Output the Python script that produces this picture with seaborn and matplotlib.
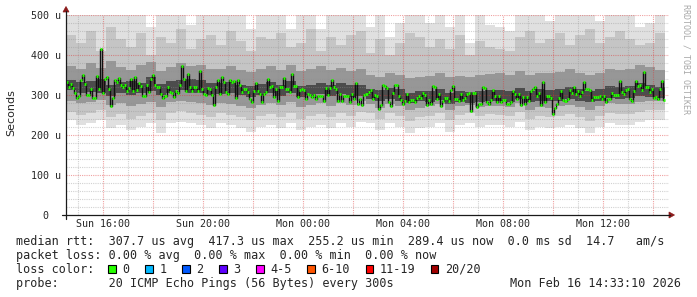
import numpy as np
import matplotlib
matplotlib.use("Agg")
import matplotlib.pyplot as plt
import seaborn as sns
from matplotlib.patches import Rectangle, Polygon
from matplotlib.lines import Line2D
from matplotlib.transforms import blended_transform_factory, offset_copy

# ---------------- data ----------------
median_us = [
    332, 321, 327, 317, 306, 292, 297, 337, 349, 327, 301, 301, 314, 292, 292, 347, 314, 416, 306, 341,
    346, 314, 272, 292, 337, 332, 342, 326, 321, 326, 311, 317, 341, 311, 346, 312, 331, 322, 297, 297,
    326, 307, 341, 351, 326, 321, 321, 302, 292, 297, 321, 307, 306, 294, 311, 306, 324, 372, 341, 311,
    352, 321, 311, 321, 321, 311, 361, 316, 302, 301, 317, 314, 301, 274, 321, 337,
    302, 346, 332, 307, 302, 337, 332, 336, 292, 337, 326, 307, 316, 316, 307, 291, 282, 311, 331, 311,
    302, 282, 302, 307, 341, 321, 322, 296, 316, 284, 321, 321, 342, 316, 316, 307, 352, 322, 322, 296,
    312, 314, 312, 291, 302, 301, 296, 301, 291, 297, 297, 297, 286, 317, 301, 317, 337, 321, 316, 286,
    302, 286, 297, 297, 297, 282, 302, 291, 331, 277, 291, 276, 299, 302, 307,
    312, 291, 301, 297, 266, 276, 326, 322, 317, 282, 272, 306, 326, 326, 297, 287, 277, 286, 302, 282,
    287, 287, 282, 292, 297, 292, 306, 301, 276, 287, 277, 322, 321, 291, 302, 272, 286, 292, 292, 286,
    312, 322, 291, 291, 286, 302, 287, 292, 302, 306, 261, 306, 306, 271, 277, 277, 321, 317, 282, 277,
    287, 312, 297, 282, 297, 282, 287, 287, 277, 277, 282, 311, 302, 291, 302,
    276, 296, 277, 296, 286, 311, 316, 321, 297, 306, 276, 332, 282, 297, 297, 292, 252, 267, 277, 292,
    311, 287, 286, 291, 312, 306, 321, 302, 311, 297, 307, 332, 316, 316, 312, 287, 296, 296, 296, 297,
    291, 297, 282, 291, 291, 306, 301, 301, 301, 336, 307, 302, 312, 316, 291, 286, 311, 336, 322, 326,
    312, 357, 321, 321, 307, 316, 292, 296, 291, 316, 336, 287,
]

# smoke envelopes, one value per half-hour block (microseconds)
smoke_max = [505, 520, 520, 520, 520, 520, 520, 520, 470, 520, 520, 520, 475, 520, 520, 520, 520, 520, 465, 520,
             520, 520, 465, 520, 520, 465, 520, 520, 520, 520, 470, 520, 445, 480, 520, 520, 480, 520, 470, 520,
             430, 520, 475, 470, 460, 520, 520, 520, 485, 520, 500, 520, 520, 485, 520, 520, 520, 470, 480, 520]
smoke_p90 = [450, 430, 460, 410, 470, 440, 420, 455, 400, 445, 430, 465, 415, 440, 450, 425, 460, 435, 410, 445,
             440, 455, 420, 430, 465, 410, 445, 425, 450, 460, 405, 440, 400, 430, 455, 445, 420, 440, 415, 450,
             400, 435, 420, 415, 410, 445, 460, 430, 440, 455, 425, 450, 465, 430, 445, 460, 440, 425, 430, 455]
smoke_p75 = [372, 365, 380, 368, 385, 370, 362, 375, 382, 360, 370, 380, 372, 376, 365, 366, 372, 362, 358, 366,
             372, 362, 376, 360, 366, 372, 362, 368, 360, 364, 350, 346, 354, 350, 342, 346, 348, 356, 344, 348,
             346, 350, 352, 354, 350, 360, 350, 356, 354, 358, 364, 356, 350, 356, 366, 362, 366, 376, 370, 362]
smoke_p60 = [338, 332, 336, 340, 324, 332, 336, 330, 345, 328, 334, 338, 340, 338, 330, 330, 332, 326, 322, 328,
             332, 326, 334, 322, 326, 330, 326, 330, 324, 326, 316, 312, 318, 314, 306, 310, 310, 316, 306, 310,
             308, 310, 312, 312, 310, 318, 310, 314, 312, 316, 320, 316, 310, 316, 322, 320, 322, 330, 326, 320]
smoke_p40 = [312, 306, 308, 306, 298, 304, 300, 305, 310, 300, 306, 312, 304, 306, 300, 302, 304, 300, 296, 300,
             304, 298, 306, 296, 300, 302, 298, 302, 296, 298, 290, 286, 290, 286, 280, 284, 282, 288, 278, 282,
             280, 282, 284, 284, 282, 290, 282, 286, 284, 286, 290, 286, 282, 286, 292, 290, 292, 298, 296, 292]
smoke_p25 = [285, 280, 282, 288, 276, 280, 272, 278, 283, 270, 282, 286, 283, 279, 274, 281, 278, 273, 268, 276,
             279, 274, 282, 270, 276, 279, 273, 281, 276, 284, 278, 267, 277, 272, 262, 268, 272, 278, 262, 272,
             276, 270, 273, 272, 270, 279, 262, 270, 268, 272, 276, 270, 262, 273, 279, 277, 277, 283, 286, 286]
smoke_p10 = [258, 250, 255, 262, 245, 252, 240, 248, 255, 238, 255, 260, 256, 250, 245, 255, 250, 244, 238, 248,
             252, 245, 255, 240, 248, 252, 245, 255, 248, 258, 255, 240, 254, 248, 235, 245, 248, 255, 238, 250,
             255, 248, 252, 250, 248, 258, 240, 248, 245, 248, 252, 245, 235, 248, 255, 252, 252, 258, 262, 262]
smoke_min = [237, 225, 229, 237, 217, 225, 212, 221, 229, 204, 229, 233, 229, 225, 217, 229, 225, 217, 208, 221,
             225, 217, 229, 212, 221, 225, 217, 229, 221, 233, 229, 212, 229, 221, 204, 217, 221, 229, 208, 225,
             229, 221, 225, 225, 221, 233, 212, 221, 217, 221, 225, 217, 204, 221, 229, 225, 225, 233, 237, 237]

x_tick_hours = [16, 20, 24, 28, 32, 36]
x_tick_labels = ["Sun 16:00", "Sun 20:00", "Mon 00:00", "Mon 04:00", "Mon 08:00", "Mon 12:00"]
y_tick_values = [0, 100, 200, 300, 400, 500]
y_tick_labels = ["  0", "100 u", "200 u", "300 u", "400 u", "500 u"]

loss_labels = ["0", "1", "2", "3", "4-5", "6-10", "11-19", "20/20"]
loss_colors = ["#26ff00", "#00b8ff", "#0059ff", "#5e00ff", "#ff00ff", "#ff5500", "#ff0000", "#a10000"]

stats_line = "median rtt:  307.7 us avg  417.3 us max  255.2 us min  289.4 us now  0.0 ms sd  14.7   am/s"
loss_line = "packet loss: 0.00 % avg  0.00 % max  0.00 % min  0.00 % now"
color_title = "loss color:"
probe_line = "probe:       20 ICMP Echo Pings (56 Bytes) every 300s"
stamp_text = "Mon Feb 16 14:33:10 2026"
ylabel_text = "Seconds"
side_text = "RRDTOOL / TOBI OETIKER"

# ---------------- layout ----------------
W, H = 697, 297
T0, T1 = 14.52, 38.64          # visible time window (hours since Sun 00:00)
T_DATA_END = 38.48

sns.set_theme(style="white")
plt.rcParams["font.family"] = ["DejaVu Sans Mono"]

fig = plt.figure(figsize=(W / 100, H / 100), dpi=100)
fig.patch.set_facecolor("white")
ax = fig.add_axes([66 / W, (H - 215) / H, 603 / W, 200 / H])
ax.set_facecolor("white")
ax.set_xlim(T0, T1)
ax.set_ylim(0, 500)
for s in ax.spines.values():
    s.set_visible(False)

# smoke
nb = len(smoke_max)
xb = np.linspace(T0, T_DATA_END, nb + 1)
levels = [
    (smoke_min, smoke_max, "#e0e0e0"),
    (smoke_p10, smoke_p90, "#c5c5c5"),
    (smoke_p25, smoke_p75, "#979797"),
    (smoke_p40, smoke_p60, "#4c4c4c"),
]
for i, (lo, hi, c) in enumerate(levels):
    lo_a = np.append(lo, lo[-1])
    hi_a = np.append(hi, hi[-1])
    ax.fill_between(xb, lo_a, hi_a, step="post", color=c, lw=0, zorder=1 + i * 0.1)

# grid (semi-transparent, drawn over the smoke like rrdtool)
minor_c = (0x8f / 255, 0x8f / 255, 0x8f / 255, 0.4)
major_c = (0xde / 255, 0x30 / 255, 0x30 / 255, 0.45)
for h in range(15, 39):
    ax.axvline(h, color=major_c if h % 2 == 0 else minor_c, lw=0.8, ls=(0, (1, 1)), zorder=3)
for v in range(20, 501, 20):
    ax.axhline(v, color=major_c if v % 100 == 0 else minor_c, lw=0.8, ls=(0, (1, 1)), zorder=3)

# median line
n = len(median_us)
step = (T_DATA_END - T0) / n
x_mid = T0 + (np.arange(n) + 0.5) * step
sns.lineplot(x=x_mid, y=median_us, ax=ax, color="#111111", lw=1.0, drawstyle="steps-mid",
             estimator=None, sort=False, zorder=4)
ax.hlines(median_us, x_mid - step / 2, x_mid + step / 2, color=loss_colors[0], lw=2.0, zorder=5)

# ticks
ax.set_xticks(x_tick_hours)
ax.set_xticklabels(x_tick_labels, fontsize=7.2)
ax.tick_params(axis="x", length=0, pad=3)
ax.set_yticks([])
ax.set_xlabel("")
ax.set_ylabel("")
trans = offset_copy(blended_transform_factory(fig.transFigure, ax.transData), fig=fig, y=-3.6, units="dots")
for v, lab in zip(y_tick_values, y_tick_labels):
    ax.text(31 / W, v, lab, transform=trans, ha="left", va="baseline", fontsize=7.2, clip_on=False)

# axis lines and arrows
def fx(px):
    return px / W

def fy(py):
    return 1 - py / H

fig.add_artist(Line2D([fx(66), fx(66)], [fy(219), fy(11)], color="#1a1a1a", lw=0.9))
fig.add_artist(Line2D([fx(62), fx(670)], [fy(215), fy(215)], color="#1a1a1a", lw=0.9))
fig.add_artist(Polygon([(fx(63), fy(12)), (fx(69), fy(12)), (fx(66), fy(6.5))], closed=True,
                       facecolor="#8b1a1a", edgecolor="#8b1a1a", lw=0.5, transform=fig.transFigure))
fig.add_artist(Polygon([(fx(669), fy(212)), (fx(669), fy(218)), (fx(674.5), fy(215))], closed=True,
                       facecolor="#8b1a1a", edgecolor="#8b1a1a", lw=0.5, transform=fig.transFigure))

# texts
fs = 8.5
fig.text(fx(11), fy(113), ylabel_text, rotation=90, ha="center", va="center", fontsize=8,
         family=["DejaVu Sans"])
fig.text(fx(686), fy(4), side_text, rotation=270, ha="center", va="top", fontsize=6, color="#a8a8a8")
fig.text(fx(16), fy(245), stats_line, ha="left", va="baseline", fontsize=fs)
fig.text(fx(16), fy(259), loss_line, ha="left", va="baseline", fontsize=fs)
fig.text(fx(16), fy(273), color_title, ha="left", va="baseline", fontsize=fs)
fig.text(fx(16), fy(287), probe_line, ha="left", va="baseline", fontsize=fs)
fig.text(fx(681), fy(287), stamp_text, ha="right", va="baseline", fontsize=fs)

box_x = 108.0
for lab, col in zip(loss_labels, loss_colors):
    fig.add_artist(Rectangle((fx(box_x), fy(272.5)), 7.5 / W, 7.5 / H, transform=fig.transFigure,
                             facecolor=col, edgecolor="black", lw=0.8))
    fig.text(fx(box_x + 14.5), fy(273), lab, ha="left", va="baseline", fontsize=fs)
    box_x += 37 + 7.1 * (len(lab) - 1)

fig.savefig("out.png", dpi=100, facecolor="white")
